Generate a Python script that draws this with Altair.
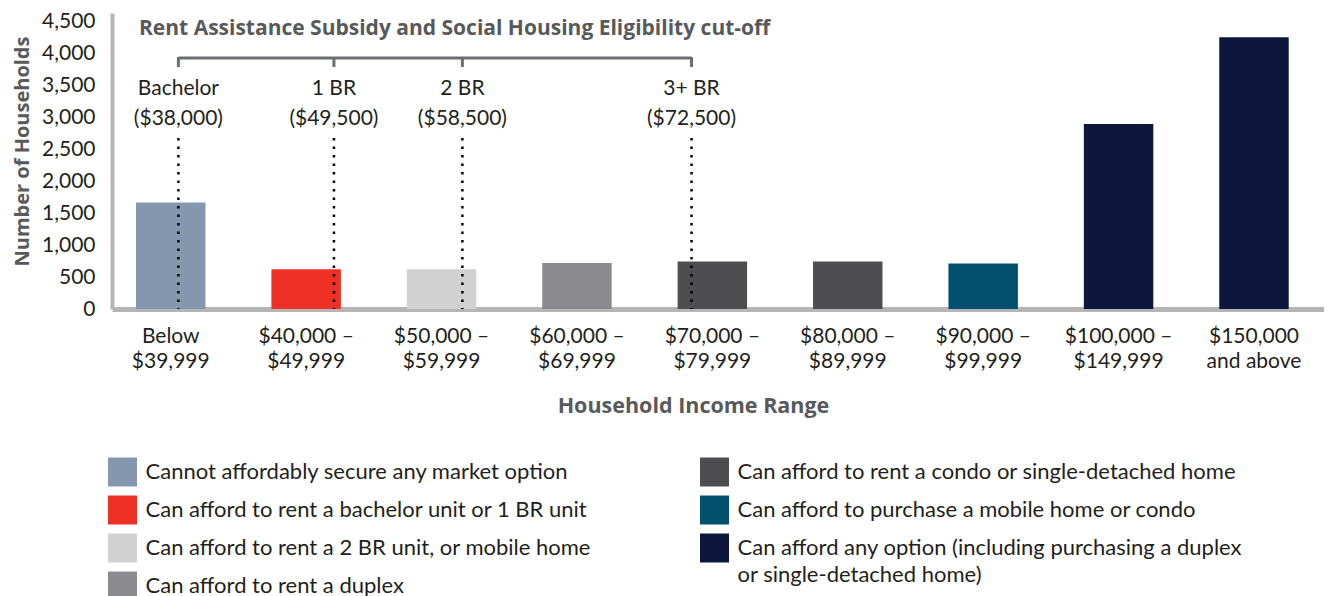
import altair as alt
import pandas as pd

# ---------------- data ----------------
categories = ["Below|$39,999", "$40,000 –|$49,999", "$50,000 –|$59,999",
              "$60,000 –|$69,999", "$70,000 –|$79,999", "$80,000 –|$89,999",
              "$90,000 –|$99,999", "$100,000 –|$149,999", "$150,000|and above"]
range_lower = [0, 40000, 50000, 60000, 70000, 80000, 90000, 100000, 150000]
households = [1670, 625, 625, 720, 745, 745, 715, 2900, 4260]

legend_labels = [
    "Cannot affordably secure any market option",
    "Can afford to rent a bachelor unit or 1 BR unit",
    "Can afford to rent a 2 BR unit, or mobile home",
    "Can afford to rent a duplex",
    "Can afford to rent a condo or single-detached home",
    "Can afford to purchase a mobile home or condo",
    "Can afford any option (including purchasing a duplex\nor single-detached home)",
]
legend_colors = ["#8597ae", "#ee3124", "#d1d1d1", "#8b8a8e", "#4e4e50", "#02506f", "#0d163d"]
bar_group_index = [0, 1, 2, 3, 4, 4, 5, 6, 6]

cutoff_names = ["Bachelor", "1 BR", "2 BR", "3+ BR"]
cutoff_incomes = [38000, 49500, 58500, 72500]
annotation_title = "Rent Assistance Subsidy and Social Housing Eligibility cut-off"
y_ticks = [0, 500, 1000, 1500, 2000, 2500, 3000, 3500, 4000, 4500]

# ---------------- styling ----------------
FONT = "Lato"
BOLD_FONT = "Open Sans"
TEXT = "#231f20"
GREY = "#58595b"
AXIS_GREY = "#b5b5b5"
W, H = 1212, 296
X_TITLE = "Household Income Range"
CUTOFF_BAND_POS = [0.61, 0.9, 0.8, 0.2]   # where the marker sits inside its bar band


def bar_of(income):
    idx = 0
    for i, lo in enumerate(range_lower):
        if income >= lo:
            idx = i
    return categories[idx]


bars_df = pd.DataFrame({
    "cat": categories,
    "households": households,
    "group": [legend_labels[g] for g in bar_group_index],
})

x_scale = alt.Scale(domain=categories, paddingInner=0.487, paddingOuter=0.219, align=0.405)
color_scale = alt.Scale(domain=legend_labels, range=legend_colors)

bars = alt.Chart(bars_df).mark_bar().encode(
    x=alt.X("cat:N", sort=categories, scale=x_scale, title=X_TITLE,
            axis=alt.Axis(labelExpr="split(datum.label, '|')",
                          labelAngle=0, ticks=False, labelPadding=16, labelLineHeight=25,
                          labelFontSize=21, labelFont=FONT, labelColor=TEXT, labelLimit=300,
                          titleFontSize=21.5, titleFont=BOLD_FONT, titleFontWeight="bold",
                          titleColor=GREY, titleX=581, titleY=86,
                          domainColor=AXIS_GREY, domainWidth=5)),
    y=alt.Y("households:Q", scale=alt.Scale(domain=[0, 4640], nice=False),
            axis=alt.Axis(values=y_ticks, format=",d", title="Number of Households",
                          ticks=False, grid=False, labelPadding=17, labelFontSize=21,
                          labelFont=FONT, labelColor=TEXT, titleFontSize=20, titleFont=BOLD_FONT,
                          titleFontWeight="bold", titleColor=GREY, titleX=-80, titleY=138,
                          domainColor=AXIS_GREY, domainWidth=4)),
    color=alt.Color("group:N", scale=color_scale, legend=None),
)

layers = [bars]

cut_df = pd.DataFrame({
    "cat": [bar_of(v) for v in cutoff_incomes],
    "name": cutoff_names,
    "price": ["(${:,})".format(v) for v in cutoff_incomes],
})

for i in range(len(cutoff_names)):
    one = alt.Chart(cut_df.iloc[[i]])
    xe = alt.X("cat:N", scale=x_scale, bandPosition=CUTOFF_BAND_POS[i], title=X_TITLE)
    layers.append(one.mark_rule(color="black", strokeWidth=2.5, strokeDash=[2.5, 6]).encode(
        x=xe, y=alt.value(125), y2=alt.value(H)))
    layers.append(one.mark_rule(color="#6d6e71", strokeWidth=3).encode(
        x=xe, y=alt.value(44), y2=alt.value(54)))
    layers.append(one.mark_text(font=FONT, fontSize=21, color=TEXT, baseline="middle").encode(
        x=xe, y=alt.value(76), text="name:N"))
    layers.append(one.mark_text(font=FONT, fontSize=21, color=TEXT, baseline="middle").encode(
        x=xe, y=alt.value(106), text="price:N"))

bracket_df = pd.DataFrame({"start": [cut_df["cat"].iloc[0]], "end": [cut_df["cat"].iloc[-1]]})
layers.append(alt.Chart(bracket_df).mark_rule(color="#6d6e71", strokeWidth=3).encode(
    x=alt.X("start:N", scale=x_scale, bandPosition=CUTOFF_BAND_POS[0], title=X_TITLE),
    x2=alt.X2("end:N", bandPosition=CUTOFF_BAND_POS[-1]),
    y=alt.value(45),
))

title_df = pd.DataFrame({"t": [annotation_title]})
layers.append(alt.Chart(title_df).mark_text(font=BOLD_FONT, fontSize=21, fontWeight="bold",
                                              color=GREY, align="left", baseline="middle").encode(
    x=alt.value(27), y=alt.value(16), text="t:N"))

top = alt.layer(*layers).properties(width=W, height=H)

# ---------------- legend panel ----------------
leg_df = pd.DataFrame({
    "label": legend_labels,
    "col": [0 if i < 4 else 1 for i in range(len(legend_labels))],
    "row": [i if i < 4 else i - 4 for i in range(len(legend_labels))],
})
lx = alt.X("col:Q", scale=alt.Scale(domain=[0, 1], range=[10.5, 602.5]), axis=None)
ly = alt.Y("row:Q", scale=alt.Scale(domain=[-0.5, 3.5], reverse=True), axis=None)
leg_sw = alt.Chart(leg_df).mark_square(size=841, opacity=1).encode(
    x=lx, y=ly, color=alt.Color("label:N", scale=color_scale, legend=None))
leg_tx = alt.Chart(leg_df).mark_text(font=FONT, fontSize=22, color=TEXT, align="left",
                                     baseline="top", dx=23, dy=-10, lineBreak="\n",
                                     lineHeight=27).encode(x=lx, y=ly, text="label:N")
legend = alt.layer(leg_sw, leg_tx).properties(width=W, height=152)

chart = alt.vconcat(top, legend, spacing=36).properties(
    padding={"left": 3, "top": 2, "right": 0, "bottom": 0}, background="white"
).configure_view(strokeWidth=0, stroke=None)

chart.save("out.html", embed_options={"renderer": "svg", "actions": False})
